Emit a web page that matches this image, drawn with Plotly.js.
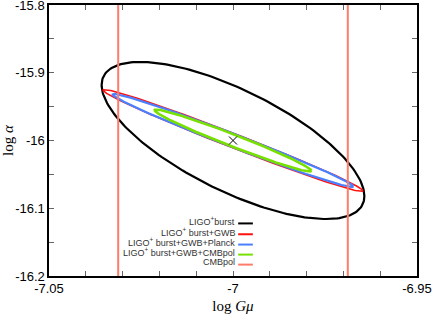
<!DOCTYPE html>
<html>
<head>
<meta charset="utf-8">
<script src="https://cdn.plot.ly/plotly-3.0.1.min.js"></script>
<style>html,body{margin:0;padding:0;background:#fff;}#plot{width:436px;height:315px;}</style>
</head>
<body>
<div id="plot"></div>
<script>
// ---- data ----
const seriesNames = ["LIGO<sup>+</sup>burst", "LIGO<sup>+</sup> burst+GWB", "LIGO<sup>+</sup> burst+GWB+Planck", "LIGO<sup>+</sup> burst+GWB+CMBpol"];
const centerLogGmu = [-7.0, -7.0, -7.0, -7.0];
const centerLogAlpha = [-16.0, -16.0, -16.0, -16.0];
const sigmaLogGmu = [0.0357, 0.0353, 0.0327, 0.0213];
const sigmaLogAlpha = [0.1159, 0.0751, 0.0687, 0.0457];
const correlation = [-0.707, -0.989, -0.9887, -0.978];
const cmbpolName = "CMBpol";
const cmbpolBounds = [-7.0312, -6.9688];
const fiducialPoint = [-7.0, -16.0];
const xTickVals = [-7.05, -7.04, -7.03, -7.02, -7.01, -7.0, -6.99, -6.98, -6.97, -6.96, -6.95];
const xTickText = ["-7.05", "", "", "", "", "-7", "", "", "", "", "-6.95"];
const yTickVals = [-16.2, -16.15, -16.1, -16.05, -16.0, -15.95, -15.9, -15.85, -15.8];
const yTickText = ["-16.2", "", "-16.1", "", "-16", "", "-15.9", "", "-15.8"];
const xRange = [-7.05, -6.95];
const yRange = [-16.2, -15.8];

// ---- styles ----
const colors = ["#000000", "#ff1010", "#4a80ff", "#78e000"];
const widths = [2.2, 1.6, 2.2, 2.6];
const cmbColor = "#ff7d68";

function ellipse(i) {
  const xs = [], ys = [];
  const n = 240;
  const s = Math.sqrt(1 - correlation[i] * correlation[i]);
  for (let k = 0; k <= n; k++) {
    const t = 2 * Math.PI * k / n;
    xs.push(centerLogGmu[i] + sigmaLogGmu[i] * Math.cos(t));
    ys.push(centerLogAlpha[i] + sigmaLogAlpha[i] * (correlation[i] * Math.cos(t) + s * Math.sin(t)));
  }
  return {xs, ys};
}

const traces = [];
for (let i = 0; i < seriesNames.length; i++) {
  const e = ellipse(i);
  traces.push({x: e.xs, y: e.ys, mode: 'lines', type: 'scatter', name: seriesNames[i],
    line: {color: colors[i], width: widths[i]}, hoverinfo: 'skip', showlegend: false});
}
cmbpolBounds.forEach(function (b) {
  traces.push({x: [b, b], y: yRange, mode: 'lines', type: 'scatter', name: cmbpolName,
    line: {color: cmbColor, width: 2}, showlegend: false});
});
traces.push({x: [fiducialPoint[0]], y: [fiducialPoint[1]], mode: 'markers', type: 'scatter',
  marker: {symbol: 'x-thin-open', size: 8, color: '#000', line: {color: '#000', width: 1}}, showlegend: false});

// ---- manual legend (text right-aligned, sample line at right) ----
const legNames = seriesNames.concat([cmbpolName]);
const legColors = colors.concat([cmbColor]);
const legY = [0.204, 0.164, 0.126, 0.089, 0.052];
const annotations = [], shapes = [];
legNames.forEach(function (nm, i) {
  annotations.push({xref: 'paper', yref: 'paper', x: 0.508, y: legY[i], xanchor: 'right', yanchor: 'middle',
    text: nm, showarrow: false, borderpad: 0, font: {family: 'Liberation Sans, Arial, sans-serif', size: 9, color: '#333'}});
  shapes.push({type: 'line', xref: 'paper', yref: 'paper', x0: 0.514, x1: 0.554, y0: legY[i] - 0.01, y1: legY[i] - 0.01,
    line: {color: legColors[i], width: 2}});
});

const tickFont = {family: 'Liberation Sans, Arial, sans-serif', size: 13, color: '#000'};
// top y tick label is placed as an annotation (Plotly drops it at the figure edge)
const yTickTextShown = yTickText.slice();
const topLabel = yTickTextShown[yTickTextShown.length - 1];
yTickTextShown[yTickTextShown.length - 1] = "";
annotations.push({xref: 'paper', yref: 'y', x: 0, y: yTickVals[yTickVals.length - 1], xanchor: 'right', yanchor: 'middle',
  xshift: -3, text: topLabel, showarrow: false, borderpad: 0, font: tickFont});

const layout = {
  width: 436, height: 315,
  margin: {l: 49, r: 19, t: 5, b: 39},
  paper_bgcolor: '#fff', plot_bgcolor: '#fff',
  showlegend: false,
  xaxis: {range: [xRange[0] - 1e-6, xRange[1] + 1e-6], tickmode: 'array', tickvals: xTickVals, ticktext: xTickText,
    ticks: 'inside', ticklen: 5, tickcolor: '#666', tickwidth: 1,
    showline: true, linecolor: '#000', linewidth: 1.6, mirror: 'allticks',
    showgrid: false, zeroline: false, tickfont: tickFont,
    title: {text: 'log <i>Gμ</i>', font: {family: 'Liberation Serif, Times New Roman, serif', size: 15, color: '#000'}, standoff: 5}},
  yaxis: {range: [yRange[0] - 1e-6, yRange[1] + 1e-6], tickmode: 'array', tickvals: yTickVals, ticktext: yTickTextShown,
    ticks: 'inside', ticklen: 5, tickcolor: '#666', tickwidth: 1,
    showline: true, linecolor: '#000', linewidth: 1.6, mirror: 'allticks',
    showgrid: false, zeroline: false, tickfont: tickFont,
    title: {text: 'log <i>α</i>', font: {family: 'Liberation Serif, Times New Roman, serif', size: 15, color: '#000'}, standoff: 7}},
  annotations: annotations,
  shapes: shapes
};

Plotly.newPlot('plot', traces, layout, {staticPlot: true, displayModeBar: false});
</script>
</body>
</html>
